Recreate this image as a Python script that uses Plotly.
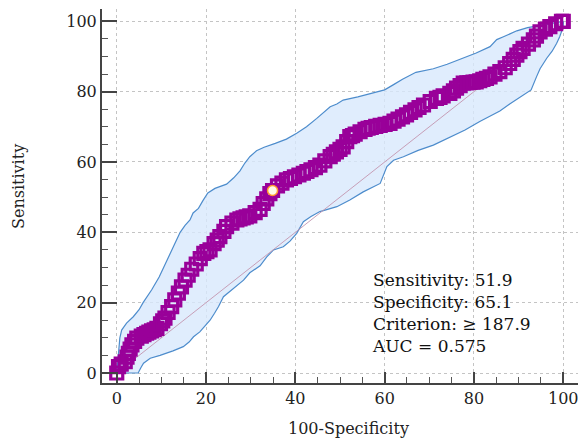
import plotly.graph_objects as go

# ROC curve points (100-Specificity, Sensitivity)
roc_x = [0, 0.4, 1.0, 1.9, 2.3, 2.6, 3.0, 3.4, 4.0, 4.5, 5.5, 6.1, 6.7, 7.2, 7.8, 8.4, 9.0, 9.8, 10.3, 10.8, 11.5,
         12.3, 13.0, 13.8, 14.5, 15.3, 16.0, 16.8, 17.8, 18.7, 19.5, 20.2, 20.9, 21.8, 22.5, 23.1, 24.0, 24.6,
         25.8, 26.9, 27.6, 28.3, 29.0, 29.8, 31.0, 32.1, 32.8, 33.6, 34.3, 34.9, 36.0, 37.0, 38.0, 38.9, 39.8,
         40.8, 41.8, 42.6, 43.5, 44.5, 45.5, 46.6, 47.8, 48.5, 49.2, 50.0, 50.7, 51.5, 52.2, 52.8, 53.4, 54.5,
         55.6, 56.3, 57.0, 58.0, 59.0, 60.1, 61.2, 62.1, 63.0, 64.0, 64.9, 65.8, 66.8, 67.7, 68.7, 70.2, 71.6,
         72.4, 73.1, 74.6, 75.4, 76.1, 76.9, 77.6, 78.4, 79.1, 79.8, 80.5, 81.3, 82.0, 82.8, 83.6, 84.7, 85.8,
         87.0, 88.0, 88.8, 89.6, 90.3, 91.0, 92.2, 93.3, 94.0, 94.8, 96.0, 97.0, 98.3, 99.6, 100]
roc_y = [0, 1.8, 2.5, 3.2, 4.5, 5.6, 6.8, 8.0, 9.0, 9.9, 10.5, 10.9, 11.3, 11.6, 12.0, 12.3, 12.7, 14.0, 14.8, 15.6,
         17.2, 18.9, 20.8, 22.7, 24.5, 26.4, 27.8, 29.5, 31.0, 32.5, 34.0, 34.5, 35.0, 36.8, 37.8, 38.8, 40.3,
         41.6, 42.6, 43.5, 43.8, 44.1, 44.4, 44.7, 45.6, 46.5, 48.2, 49.5, 51.0, 51.9, 53.2, 54.0, 54.9, 55.3,
         55.8, 56.3, 56.8, 57.3, 57.8, 58.4, 59.1, 60.3, 61.5, 62.2, 62.9, 63.6, 64.3, 65.8, 67.2, 67.5, 67.9,
         68.6, 69.3, 69.6, 69.8, 70.1, 70.4, 70.7, 71.0, 71.6, 72.2, 72.8, 73.4, 74.1, 74.8, 75.5, 76.2, 77.2,
         78.1, 78.4, 78.8, 79.5, 80.2, 81.0, 81.7, 82.4, 82.5, 82.6, 82.7, 82.8, 83.1, 83.5, 83.8, 84.2, 85.0,
         85.7, 86.8, 88.0, 89.2, 90.4, 91.4, 92.3, 93.5, 94.7, 95.8, 97.0, 97.8, 98.5, 99.3, 100, 100]

# Upper confidence bound
up_x = [0, 0.3, 0.7, 1.1, 2.2, 3.7, 5.0, 5.9, 7.8, 9.5, 10.5, 11.6, 12.8, 14.2, 15.3, 16.4, 17.1, 18.3, 19.3,
        20.4, 22.0, 24.6, 26.2, 27.6, 28.7, 29.8, 31.3, 33.0, 35.5, 38.0, 40.3, 42.5, 44.8, 47.8, 49.3, 50.7,
        54.0, 57.0, 60.0, 62.0, 64.0, 67.0, 70.9, 74.0, 78.4, 80.5, 83.6, 85.1, 86.6, 89.6, 92.0, 94.8, 97.0,
        99.2, 100]
up_y = [0, 5, 10, 12.2, 14.2, 16, 18, 20, 23.6, 27.3, 30, 33, 36.5, 40, 42, 43.5, 45.5, 46.8, 49, 51.2, 52.5,
        53.7, 55.5, 57.5, 59.7, 61.5, 63.2, 64.2, 65.3, 66.5, 68.2, 70, 72.4, 75.7, 76.5, 77.6, 78.5, 79.6, 80.5,
        82, 83.5, 85.5, 86.5, 87.8, 90, 91, 92.8, 94.8, 95.6, 97.3, 98.2, 98.9, 99.4, 100, 100]

# Lower confidence bound
lo_x = [0, 1.4, 4.8, 5.4, 6.0, 7.5, 9.7, 12.6, 14.9, 16.2, 17.2, 18.6, 19.8, 20.9, 21.9, 22.8, 23.9, 26.2, 28.4,
        29.8, 32.1, 33.6, 35.1, 37.3, 38.8, 40.3, 41.8, 43.5, 45.5, 49.3, 52.2, 55.2, 59.0, 60.5, 62.0, 64.2,
        67.5, 70.9, 74.5, 78.0, 81.3, 83.5, 85.8, 88.0, 90.5, 92.8, 94.0, 94.8, 96.3, 97.5, 98.5, 99.2, 100, 100]
lo_y = [0, 0, 0, 1.5, 2.8, 4.2, 5.0, 6.3, 7.5, 8.8, 10.3, 11.7, 13.3, 15, 17, 18.9, 21.7, 24, 26.4, 28.5, 30.5,
        33, 35, 35.9, 37.5, 39.7, 43, 44.5, 45.9, 47.3, 49.2, 51.5, 53.9, 58.7, 60.5, 61.5, 63.3, 64.8, 67, 69.1,
        71.5, 73, 74.5, 76.5, 78.5, 80.5, 84.2, 86.5, 89.5, 91.5, 93.7, 95.6, 98.5, 100]

cut_x = [34.9]
cut_y = [51.9]
diag = [0, 100]
ticks = [0, 20, 40, 60, 80, 100]
stats_lines = ["Sensitivity: 51.9", "Specificity: 65.1", "Criterion: \u2265 187.9", "AUC = 0.575"]

SERIF = "DejaVu Serif"
PURPLE = "#990099"
BAND_LINE = "#4d8ccc"

fig = go.Figure()

# band fill
fig.add_trace(go.Scatter(x=up_x + lo_x[::-1], y=up_y + lo_y[::-1], fill="toself",
                         fillcolor="rgba(216,233,252,0.8)", line=dict(width=0), mode="lines",
                         hoverinfo="skip", showlegend=False))
fig.add_trace(go.Scatter(x=up_x, y=up_y, mode="lines", line=dict(color=BAND_LINE, width=1.2),
                         showlegend=False))
fig.add_trace(go.Scatter(x=lo_x, y=lo_y, mode="lines", line=dict(color=BAND_LINE, width=1.2),
                         showlegend=False))
# diagonal
fig.add_trace(go.Scatter(x=diag, y=diag, mode="lines", line=dict(color="rgba(195,150,175,0.9)", width=1),
                         showlegend=False))
# ROC markers
fig.add_trace(go.Scatter(x=roc_x, y=roc_y, mode="markers",
                         marker=dict(symbol="square-open", size=12, color=PURPLE, line=dict(width=3.2, color=PURPLE)),
                         showlegend=False))
# criterion point
fig.add_trace(go.Scatter(x=cut_x, y=cut_y, mode="markers",
                         marker=dict(symbol="circle", size=10, color="#fffbe8",
                                     line=dict(width=1.5, color="#ff9a30")),
                         showlegend=False))

axis_common = dict(
    showline=True, linecolor="#444444", linewidth=2,
    showgrid=True, gridcolor="#c4c4c4", griddash="dot", gridwidth=1,
    zeroline=False, tickmode="array", tickvals=ticks,
    ticks="inside", tickcolor="#444444", tickwidth=1.5,
    tickfont=dict(family=SERIF, size=16, color="#222222"),
    minor=dict(dtick=5, ticks="inside", ticklen=6, tickcolor="#555555", tickwidth=1, showgrid=False),
)

fig.update_layout(
    width=580, height=439,
    margin=dict(l=102, r=2, t=9, b=56),
    paper_bgcolor="white", plot_bgcolor="white",
    xaxis=dict(range=[-3.3, 103.3], ticklen=11, **axis_common),
    yaxis=dict(range=[-2.84, 103.5], ticklen=15, **axis_common),
    annotations=[
        dict(x=56.7, y=30, xref="x", yref="y", xanchor="left", yanchor="top", align="left",
             text="<br>".join(stats_lines), showarrow=False,
             font=dict(family=SERIF, size=17, color="#111111")),
        dict(x=0.517, y=0, xref="paper", yref="paper", yshift=-45, xanchor="center", yanchor="middle",
             text="100-Specificity", showarrow=False, font=dict(family=SERIF, size=16, color="#222222")),
        dict(x=0, y=0.524, xref="paper", yref="paper", xshift=-84, xanchor="center", yanchor="middle",
             text="Sensitivity", textangle=-90, showarrow=False,
             font=dict(family=SERIF, size=16, color="#222222")),
    ],
)

fig.write_html("out.html")
